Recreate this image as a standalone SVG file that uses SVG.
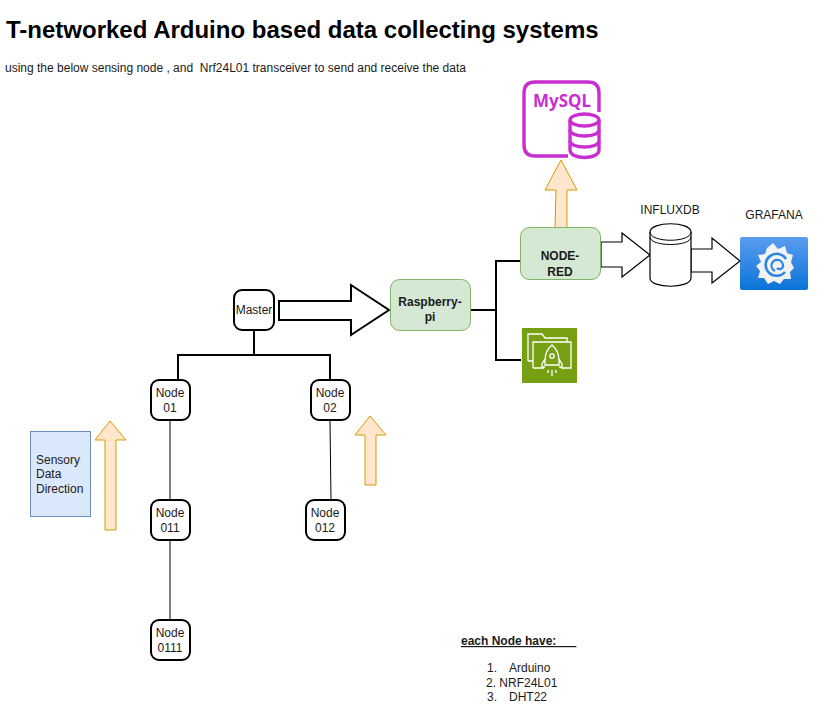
<svg xmlns="http://www.w3.org/2000/svg" width="830" height="716" viewBox="0 0 830 716">
<defs>
<linearGradient id="gf" x1="0" y1="0" x2="0" y2="1"><stop offset="0" stop-color="#5b9cf0"/><stop offset="1" stop-color="#0a74d8"/></linearGradient>
</defs>
<style>
text{font-family:"Liberation Sans",Arial,sans-serif;fill:#1a1a1a;font-size:12px;white-space:pre}
.m{text-anchor:middle}
.n{fill:#fff;stroke:#000;stroke-width:2}
.g{fill:#d5e8d4;stroke:#82b366;stroke-width:1}
.a{fill:#fff;stroke:#000;stroke-width:1.2;stroke-linejoin:miter}
.o{fill:#ffe6cc;stroke:#d79b00;stroke-width:1}
.l{fill:none;stroke:#000;stroke-width:2}
.t{fill:none;stroke:#000;stroke-width:1}
.b{font-weight:bold}
.my{fill:none;stroke:#c92fd0;stroke-width:3.4}
.w{fill:none;stroke:#fff;stroke-width:1.3}
</style>
<rect width="830" height="716" fill="#fff"/>
<text x="6" y="38" style="font-size:24px;font-weight:bold;fill:#000">T-networked Arduino based data collecting systems</text>
<text x="5" y="72" style="font-size:12px" xml:space="preserve">using the below sensing node , and  Nrf24L01 transceiver to send and receive the data</text>

<g id="connectors">
<path class="l" d="M254 331V355M178 380V355H330V380"/>
<path class="t" d="M170 421V500M170 541V620M330 421L331 500"/>
<path class="l" d="M471 310H496M520 261H496V360H521"/>
<path d="M279 301H351V285L389 310L351 335V320H279Z" fill="#fff" stroke="#000" stroke-width="2"/>
<path class="a" d="M601 242H622V233L650 255L622 277V267H601Z"/>
<path class="a" d="M691 249H712V238L740 261L712 283V272H691Z"/>
<path class="o" d="M555 228L556 190H545L561 160L577 190H567V228Z"/>
<path class="o" d="M105 530V440H95L110 421L126 440H116V530Z"/>
<path class="o" d="M365 485V435H355L370 416L386 435H376V485Z"/>
</g>

<g id="master"><rect class="n" x="234" y="290" width="40" height="40" rx="8"/><text class="m" x="254" y="314">Master</text></g>
<g id="node01"><rect class="n" x="151" y="380" width="39" height="40" rx="8"/><text class="m" x="170" y="397">Node</text><text class="m" x="170" y="412">01</text></g>
<g id="node02"><rect class="n" x="311" y="380" width="39" height="40" rx="8"/><text class="m" x="330" y="397">Node</text><text class="m" x="330" y="412">02</text></g>
<g id="node011"><rect class="n" x="151" y="500" width="39" height="40" rx="8"/><text class="m" x="170" y="517">Node</text><text class="m" x="170" y="532">011</text></g>
<g id="node012"><rect class="n" x="306" y="500" width="39" height="40" rx="8"/><text class="m" x="325" y="517">Node</text><text class="m" x="325" y="532">012</text></g>
<g id="node0111"><rect class="n" x="151" y="620" width="39" height="40" rx="8"/><text class="m" x="170" y="637">Node</text><text class="m" x="170" y="652">0111</text></g>

<g id="raspberry"><rect class="g" x="390.500" y="279.500" width="80" height="51" rx="9"/><text class="m b" x="430" y="306">Raspberry-</text><text class="m b" x="430" y="321">pi</text></g>
<g id="nodered"><rect class="g" x="520.500" y="227.500" width="80" height="52" rx="9"/><text class="m b" x="560" y="260">NODE-</text><text class="m b" x="560" y="276">RED</text></g>

<g id="sensory"><rect x="30.500" y="431.500" width="60" height="85" fill="#dae8fc" stroke="#6c8ebf"/><text x="36" y="464">Sensory</text><text x="36" y="478">Data</text><text x="36" y="493">Direction</text></g>

<g id="mysql">
<path class="my" d="M568 156H535Q524 156 524 145V93Q524 82 535 82H588Q599 82 599 93V112"/>
<text x="533" y="107" style="font-size:17px;font-weight:bold;fill:#c92fd0;font-family:'Noto Sans',sans-serif">MySQL</text>
<path class="my" d="M570 120V150C570 160 599 160 599 150V120"/>
<ellipse class="my" cx="584.500" cy="120" rx="14.500" ry="6"/>
<path class="my" d="M570 130C570 138 599 138 599 130M570 141C570 149 599 149 599 141"/>
</g>

<g id="influxdb">
<path d="M650 232C650 221 691 221 691 232V278C691 289 650 289 650 278Z" fill="#fff" stroke="#000" stroke-width="1.200"/>
<path class="t" d="M650 232C650 243 691 243 691 232M650 237C650 247 691 247 691 237"/>
<text class="m" x="670" y="214">INFLUXDB</text>
</g>

<g id="grafana">
<text class="m" x="774" y="219">GRAFANA</text>
<rect x="740" y="237" width="68" height="53" rx="2" fill="url(#gf)"/>
<path d="M773 243L778 249L785 246L787 253L793 255L791 262L794 268L790 272L791 279L784 279L780 284L774 281L768 284L764 278L758 278L760 271L756 266L761 262L758 255L765 254L767 248Z" fill="#f2f2f2"/>
<path d="M786 259A11 11 0 1 0 785 272" fill="none" stroke="#2b85e4" stroke-width="2.600"/>
<path d="M775 271A5.800 5.800 0 1 1 783 265A3.500 3.500 0 0 1 777 268" fill="none" stroke="#2b85e4" stroke-width="2.200"/>
</g>

<g id="rocket">
<rect x="522" y="328" width="55" height="55" fill="#76a012" />
<path class="w" d="M528 361V334H542L545 338H567V342M528 361H533M533 368V342H571V368H561M544 368H533"/>
<path class="w" d="M552 345C547 349 545 354 545 361V365H559V361C559 354 557 349 552 345ZM545 359L542 364V367H545M559 359L562 364V367H559M552 370V376M548 370V373M556 370V373"/>
<circle class="w" cx="552" cy="356" r="2.200"/>
</g>

<g id="notes">
<text x="461" y="645" style="font-weight:bold;text-decoration:underline" xml:space="preserve">each Node have:      </text>
<text x="487" y="672">1.</text><text x="509" y="672">Arduino</text>
<text x="486" y="687">2. NRF24L01</text>
<text x="487" y="701">3.</text><text x="509" y="701">DHT22</text>
</g>
</svg>
